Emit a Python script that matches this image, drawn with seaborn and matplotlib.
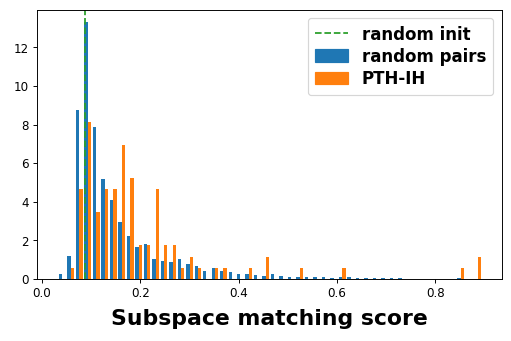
import numpy as np
import pandas as pd
import matplotlib
matplotlib.use("Agg")
import matplotlib.pyplot as plt
import seaborn as sns
from matplotlib.lines import Line2D
from matplotlib.patches import Patch

# Histogram bin range (50 bins)
bin_start = 0.0329
bin_end = 0.895
n_bins = 50

# Density heights per bin
random_pairs = [0.25, 1.21, 8.74, 13.3, 7.86, 5.17, 4.09, 2.95, 2.22, 1.66,
                1.81, 1.03, 0.93, 0.88, 1.03, 0.78, 0.67, 0.41, 0.57, 0.41,
                0.36, 0.26, 0.26, 0.21, 0.16, 0.26, 0.16, 0.10, 0.10, 0.10,
                0.10, 0.10, 0.05, 0.12, 0.12, 0.06, 0.06, 0.06, 0.06, 0.06,
                0.06, 0.0, 0.0, 0.0, 0.0, 0.0, 0.0, 0.06, 0.0, 0.0]
pth_ih = [0.0, 0.58, 4.64, 8.12, 3.48, 4.64, 4.64, 6.96, 5.22, 1.74,
          1.74, 4.64, 1.74, 1.74, 0.58, 1.16, 0.58, 0.0, 0.58, 0.58,
          0.0, 0.0, 0.58, 0.0, 1.16, 0.0, 0.0, 0.0, 0.58, 0.0,
          0.0, 0.0, 0.0, 0.58, 0.0, 0.0, 0.0, 0.0, 0.0, 0.0,
          0.0, 0.0, 0.0, 0.0, 0.0, 0.0, 0.0, 0.58, 0.0, 1.16]
random_init = 0.0885

series_names = ["random pairs", "PTH-IH"]
colors = ["#1f77b4", "#ff7f0e"]
line_color = "#2ca02c"

edges = np.linspace(bin_start, bin_end, n_bins + 1)
centers = (edges[:-1] + edges[1:]) / 2
df = pd.DataFrame({
    "score": np.concatenate([centers, centers]),
    "density": np.concatenate([random_pairs, pth_ih]),
    "series": [series_names[0]] * n_bins + [series_names[1]] * n_bins,
})

fig = plt.figure(figsize=(6, 4), dpi=85.33)
ax = fig.add_axes([0.072, 0.182, 0.908, 0.789])
sns.histplot(data=df, x="score", weights="density", hue="series",
             hue_order=series_names, palette=colors, bins=edges.tolist(),
             multiple="dodge", shrink=0.8, stat="count", alpha=1,
             linewidth=0, legend=False, ax=ax)
ax.axvline(random_init, color=line_color, linestyle="--")
ax.set_ylabel("")
ax.set_xlabel("Subspace matching score", fontsize=18.5, fontweight="bold",
              labelpad=7)
ax.set_ylim(0, 13.3 * 1.05)
ax.set_xlim(-0.0102, 0.935)

handles = [Line2D([0], [0], color=line_color, linestyle="--"),
           Patch(color=colors[0]), Patch(color=colors[1])]
labels = ["random init"] + series_names
ax.legend(handles, labels, loc="upper right", prop={"weight": "bold", "size": 14},
          labelspacing=0.25, borderpad=0.45, handleheight=0.8)

fig.savefig("out.png", dpi=85.33)
